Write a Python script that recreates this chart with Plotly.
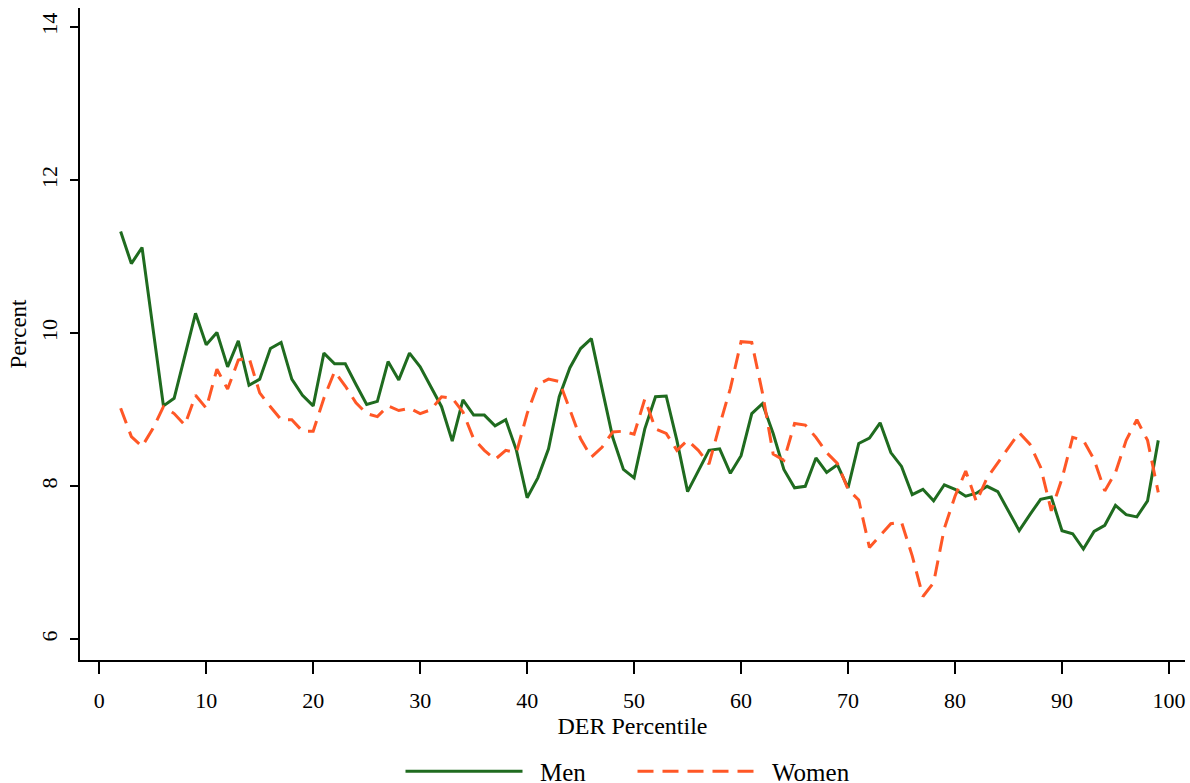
import plotly.graph_objects as go

percentile = list(range(2, 100))

men = [11.33, 10.91, 11.12, 10.05, 9.05, 9.15, 9.70, 10.26, 9.85, 10.01,
       9.56, 9.90, 9.32, 9.40, 9.80, 9.88, 9.40, 9.19, 9.05, 9.74,
       9.60, 9.60, 9.33, 9.07, 9.11, 9.63, 9.39, 9.74, 9.56, 9.31,
       9.04, 8.59, 9.13, 8.93, 8.93, 8.79, 8.87, 8.47, 7.85, 8.11,
       8.49, 9.17, 9.55, 9.80, 9.93, 9.28, 8.64, 8.22, 8.11, 8.75,
       9.17, 9.18, 8.60, 7.93, 8.20, 8.47, 8.49, 8.17, 8.40, 8.95,
       9.08, 8.69, 8.22, 7.98, 8.00, 8.37, 8.18, 8.28, 7.98, 8.56,
       8.63, 8.83, 8.44, 8.26, 7.89, 7.96, 7.81, 8.02, 7.96, 7.87,
       7.91, 8.00, 7.93, 7.68, 7.42, 7.63, 7.83, 7.86, 7.42, 7.38,
       7.18, 7.41, 7.49, 7.75, 7.63, 7.60, 7.81, 8.60]

women = [9.02, 8.65, 8.52, 8.75, 9.04, 8.95, 8.80, 9.19, 9.02, 9.53,
         9.27, 9.65, 9.68, 9.22, 9.04, 8.87, 8.87, 8.72, 8.72, 9.15,
         9.50, 9.31, 9.09, 8.95, 8.91, 9.05, 8.99, 9.02, 8.95, 9.00,
         9.17, 9.15, 8.97, 8.62, 8.47, 8.35, 8.47, 8.44, 8.95, 9.33,
         9.40, 9.37, 9.00, 8.62, 8.38, 8.51, 8.71, 8.72, 8.68, 9.14,
         8.75, 8.69, 8.47, 8.60, 8.47, 8.29, 8.80, 9.28, 9.89, 9.88,
         9.22, 8.42, 8.34, 8.82, 8.80, 8.64, 8.44, 8.30, 7.96, 7.82,
         7.20, 7.36, 7.51, 7.53, 7.09, 6.56, 6.74, 7.45, 7.87, 8.20,
         7.80, 8.11, 8.31, 8.50, 8.70, 8.55, 8.25, 7.68, 8.10, 8.64,
         8.60, 8.35, 7.94, 8.18, 8.60, 8.87, 8.60, 7.92]

x_ticks = [0, 10, 20, 30, 40, 50, 60, 70, 80, 90, 100]
y_ticks = [6, 8, 10, 12, 14]

GREEN = "#1F6B1F"
ORANGE = "#FF5726"
FONT = "Liberation Serif"
PAD = "\u00a0\u00a0"

fig = go.Figure()
fig.add_trace(go.Scatter(x=percentile, y=men, mode="lines", name=PAD + "Men",
                         line=dict(color=GREEN, width=3)))
fig.add_trace(go.Scatter(x=percentile, y=women, mode="lines", name=PAD + "Women",
                         line=dict(color=ORANGE, width=3, dash="16px,9px")))

fig.update_layout(
    width=1190, height=799,
    margin=dict(l=80, r=5, t=8, b=137),
    paper_bgcolor="white", plot_bgcolor="white",
    font=dict(family=FONT, size=22, color="black"),
    showlegend=True,
    legend=dict(orientation="h", x=0.5, xanchor="center", y=-0.171, yanchor="middle",
                font=dict(family=FONT, size=25), itemwidth=117,
                entrywidth=100, entrywidthmode="pixels",
                traceorder="normal"),
)
fig.update_xaxes(range=[-1.8, 101.5], tickvals=x_ticks, ticks="outside", ticklen=12,
                 tickwidth=1.5, tickcolor="black", showline=True, linecolor="black",
                 linewidth=1.5, showgrid=False, zeroline=False, automargin=False,
                 ticklabelstandoff=8,
                 title=dict(text="DER Percentile", font=dict(family=FONT, size=24), standoff=0),
                 tickfont=dict(family=FONT, size=22))
fig.update_yaxes(range=[5.73, 14.25], tickvals=y_ticks, ticks="outside", ticklen=8,
                 tickwidth=1.5, tickcolor="black", showline=True, linecolor="black",
                 linewidth=1.5, showgrid=False, zeroline=False, tickangle=-90,
                 automargin=False, ticklabelstandoff=4,
                 title=dict(text="Percent", font=dict(family=FONT, size=23), standoff=4),
                 tickfont=dict(family=FONT, size=22))

# remove the browser's default page margin so the figure sits at the window's corner
fig.write_html("out.html",
               config={"displayModeBar": False},
               post_script="document.body.style.margin='0';document.body.style.overflow='hidden';")
